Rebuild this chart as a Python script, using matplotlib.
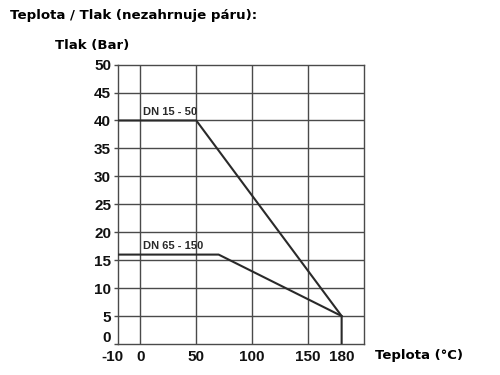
import matplotlib
matplotlib.use("Agg")
import matplotlib.pyplot as plt
import matplotlib.transforms as mtransforms
import numpy as np

# data
dn_small_t = [-10, 50, 180, 180]
dn_small_p = [40, 40, 5, 0]
dn_large_t = [-10, 70, 180]
dn_large_p = [16, 16, 5]
x_ticks = [-10, 0, 50, 100, 150, 180]
y_ticks = [0, 5, 10, 15, 20, 25, 30, 35, 40, 45, 50]
x_grid = [0, 50, 100, 150]


# the original axis is stretched below 0 (-10 sits twice as far from 0)
def fwd(x):
    x = np.asarray(x, dtype=float)
    return np.where(x < 0, 2 * x, x)


def inv(x):
    x = np.asarray(x, dtype=float)
    return np.where(x < 0, x / 2, x)


fig = plt.figure(figsize=(5, 3.75), dpi=100)
ax = fig.add_axes([0.236, 0.0827, 0.492, 0.745])
ax.set_xscale("function", functions=(fwd, inv))

ax.set_xlim(-10, 200)
ax.set_ylim(0, 50)

for x in x_grid:
    ax.axvline(x, color="#4a4a4a", lw=1.0, zorder=1)
for y in y_ticks[1:-1]:
    ax.axhline(y, color="#4a4a4a", lw=1.0, zorder=1)

ax.plot(dn_small_t, dn_small_p, color="#2a2a2a", lw=1.5, zorder=3)
ax.plot(dn_large_t, dn_large_p, color="#2a2a2a", lw=1.5, zorder=3)

ax.text(2, 40.6, "DN 15 - 50", fontsize=8, fontweight="bold", color="#2a2a2a",
        family="Liberation Sans", va="bottom", ha="left")
ax.text(2, 16.6, "DN 65 - 150", fontsize=8, fontweight="bold", color="#2a2a2a",
        family="Liberation Sans", va="bottom", ha="left")

ax.set_xticks(x_ticks)
ax.set_xticklabels([str(v) for v in x_ticks])
ax.set_yticks(y_ticks)
ax.xaxis.set_minor_locator(matplotlib.ticker.NullLocator())
for lab in ax.get_xticklabels() + ax.get_yticklabels():
    lab.set_fontsize(11)
    lab.set_fontweight("bold")
    lab.set_family("Liberation Sans")
    lab.set_color("#111111")
ax.tick_params(axis="both", length=3, width=1, color="#4a4a4a", pad=2)
ax.tick_params(axis="x", length=0, pad=4)

# corner labels sit a bit apart in the original
yt0 = ax.yaxis.get_major_ticks()[0].label1
yt0.set_transform(yt0.get_transform() +
                  mtransforms.ScaledTranslation(0, 0.07, fig.dpi_scale_trans))
xt0 = ax.xaxis.get_major_ticks()[0].label1
xt0.set_transform(xt0.get_transform() +
                  mtransforms.ScaledTranslation(-0.06, 0, fig.dpi_scale_trans))

for s in ax.spines.values():
    s.set_color("#4a4a4a")
    s.set_linewidth(1.0)

fig.text(0.02, 0.96, "Teplota / Tlak (nezahrnuje páru):", fontsize=9.6,
         fontweight="bold", family="DejaVu Sans", va="center", ha="left")
fig.text(0.11, 0.88, "Tlak (Bar)", fontsize=9.5, fontweight="bold",
         family="DejaVu Sans", va="center", ha="left")
fig.text(0.75, 0.053, "Teplota (°C)", fontsize=9.5, fontweight="bold",
         family="DejaVu Sans", va="center", ha="left")

fig.savefig("out.png", dpi=100, facecolor="white")
